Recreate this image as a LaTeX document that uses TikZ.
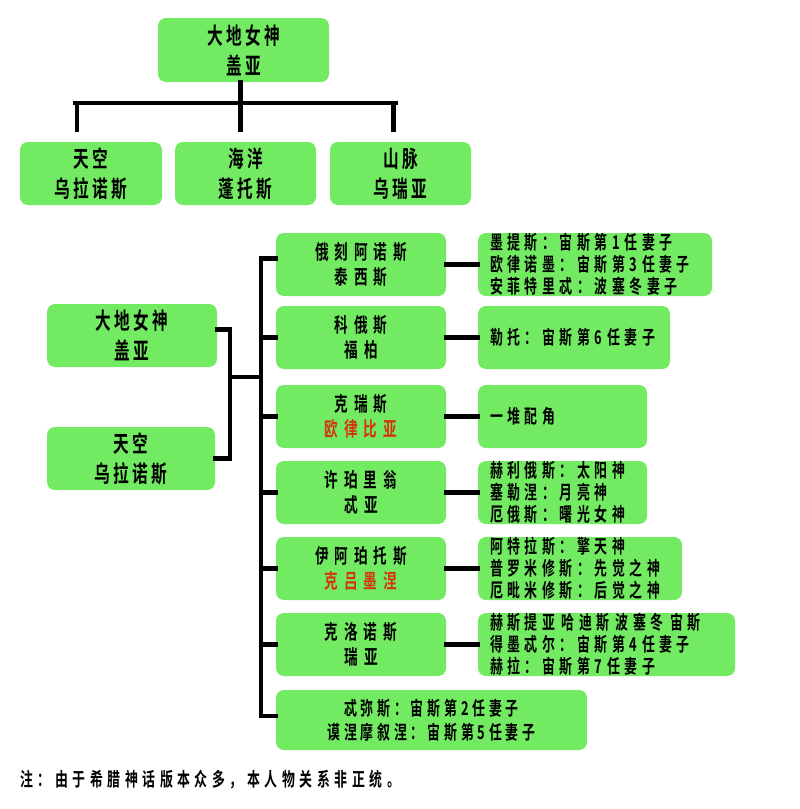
\documentclass[tikz,border=0pt]{standalone}
\usepackage{fontspec}
\newfontfamily\zh[FakeStretch=0.68]{Noto Sans CJK SC Bold}
\definecolor{boxgreen}{RGB}{114,234,98}
\definecolor{redname}{RGB}{212,52,18}

\begin{document}
\begin{tikzpicture}[x=1pt, y=-1pt,
	box/.style={rectangle, rounded corners=8pt, fill=boxgreen, inner sep=0pt, align=center, minimum height=63pt},
	bigtext/.style={font=\zh\addfontfeature{LetterSpace=15}\fontsize{23}{30}\selectfont},
	kidtext/.style={font=\zh\addfontfeature{LetterSpace=30}\fontsize{20}{25}\selectfont},
	listtext/.style={font=\zh\addfontfeature{LetterSpace=24}\fontsize{19}{22}\selectfont},
	listbox/.style={box, listtext, align=left, inner xsep=12pt},
	conn/.style={line width=4.5pt, line cap=rect}]

	\useasboundingbox (0, 0) rectangle (800, 809);

	\node (gaia) [box, bigtext, minimum width=171pt, minimum height=64pt] at (243.5, 50) {大地女神\\盖亚};
	\node (sky) [box, bigtext, minimum width=142pt] at (91, 173.5) {天空\\乌拉诺斯};
	\node (sea) [box, bigtext, minimum width=141pt] at (245.5, 173.5) {海洋\\蓬托斯};
	\node (mount) [box, bigtext, minimum width=141pt] at (400.5, 173.5) {山脉\\乌瑞亚};

	\coordinate (busl) at (75, 103);
	\coordinate (busr) at (396, 103);
	\coordinate (skytop) at ([xshift=-14pt, yshift=12pt]sky.north);
	\coordinate (seatop) at ([xshift=-5pt, yshift=12pt]sea.north);
	\coordinate (mounttop) at ([xshift=-7pt, yshift=12pt]mount.north);
	\draw[conn] (busl) -- (busr);
	\draw[conn] ([xshift=-3pt]gaia.south) -- ([xshift=-3pt]gaia.south |- busl);
	\draw[conn] (skytop |- busl) -- (skytop);
	\draw[conn] (seatop |- busl) -- (seatop);
	\draw[conn] (mounttop |- busl) -- (mounttop);

	\node (gaiab) [box, bigtext, minimum width=170pt] at (132, 335.5) {大地女神\\盖亚};
	\node (skyb) [box, bigtext, minimum width=168pt] at (131, 458.5) {天空\\乌拉诺斯};

	\node (oceanus) [box, kidtext, minimum width=170pt] at (361, 264.5) {俄刻阿诺斯\\泰西斯};
	\node (koios) [box, kidtext, minimum width=170pt] at (361, 337.5) {科俄斯\\福柏};
	\node (crius) [box, kidtext, minimum width=170pt] at (361, 416.5) {克瑞斯\\{\color{redname}欧律比亚}};
	\node (hyper) [box, kidtext, minimum width=170pt] at (361, 492.5) {许珀里翁\\忒亚};
	\node (iapetus) [box, kidtext, minimum width=170pt] at (361, 568.5) {伊阿珀托斯\\{\color{redname}克吕墨涅}};
	\node (cronus) [box, kidtext, minimum width=170pt] at (361, 644.5) {克洛诺斯\\瑞亚};
	\node (themis) [box, font=\zh\addfontfeature{LetterSpace=20}\fontsize{19}{24}\selectfont, minimum width=311pt, minimum height=60pt] at (431.5, 720) {忒弥斯：宙斯第2任妻子\\谟涅摩叙涅：宙斯第5任妻子};

	\node (oceanusr) [listbox, text width=210pt] at (595, 264.5) {墨提斯：宙斯第1任妻子\\欧律诺墨：宙斯第3任妻子\\安菲特里忒：波塞冬妻子};
	\node (koiosr) [listbox, text width=168pt] at (574, 337.5) {勒托：宙斯第6任妻子};
	\node (criusr) [listbox, text width=145pt] at (562.5, 416.5) {一堆配角};
	\node (hyperr) [listbox, text width=145pt] at (562.5, 492.5) {赫利俄斯：太阳神\\塞勒涅：月亮神\\厄俄斯：曙光女神};
	\node (iapetusr) [listbox, text width=180pt] at (580, 568.5) {阿特拉斯：擎天神\\普罗米修斯：先觉之神\\厄毗米修斯：后觉之神};
	\node (cronusr) [listbox, text width=233pt] at (606.5, 644.5) {赫斯提亚 哈迪斯 波塞冬 宙斯\\得墨忒尔：宙斯第4任妻子\\赫拉：宙斯第7任妻子};

	\coordinate (pair) at (230, 377);
	\draw[conn] ([yshift=6pt]gaiab.east) -| (pair);
	\draw[conn] (skyb.east) -| (pair);
	\draw[conn] ([yshift=6pt]oceanus.west) -- ++(-15, 0) coordinate (trunk) |- ([yshift=4pt]themis.west);
	\draw[conn] (pair) -- (pair -| trunk);
	\draw[conn] (koios.west) -- (koios.west -| trunk);
	\draw[conn] (crius.west) -- (crius.west -| trunk);
	\draw[conn] (hyper.west) -- (hyper.west -| trunk);
	\draw[conn] (iapetus.west) -- (iapetus.west -| trunk);
	\draw[conn] (cronus.west) -- (cronus.west -| trunk);

	\path
	(oceanus) edge[conn] (oceanusr)
	(koios) edge[conn] (koiosr)
	(crius) edge[conn] (criusr)
	(hyper) edge[conn] (hyperr)
	(iapetus) edge[conn] (iapetusr)
	(cronus) edge[conn] (cronusr);

	\node (note) [anchor=west, inner sep=0pt, listtext] at (20, 780) {注：由于希腊神话版本众多，本人物关系非正统。};

\end{tikzpicture}
\end{document}
